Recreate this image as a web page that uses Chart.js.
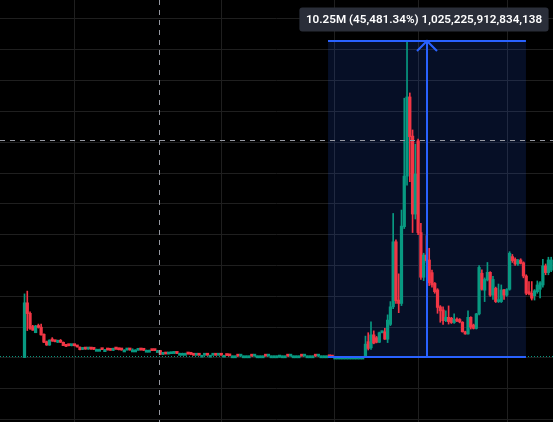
<!DOCTYPE html>
<html>
<head>
<meta charset="utf-8">
<script src="https://cdn.jsdelivr.net/npm/chart.js@4.4.1/dist/chart.umd.min.js"></script>
<style>
  html, body { margin: 0; padding: 0; background: #000; }
  #wrap { width: 553px; height: 422px; }
</style>
</head>
<body>
<div id="wrap"><canvas id="chart" width="553" height="422"></canvas></div>
<script>
// Candles, price in millions, one entry per bar
const open = [
  0.00,1.79,1.45,1.02,0.82,1.04,1.00,0.77,0.53,0.42,
  0.58,0.55,0.51,0.55,0.51,0.42,0.41,0.40,0.41,0.40,
  0.35,0.28,0.30,0.29,0.30,0.29,0.28,0.28,0.28,0.27,
  0.27,0.27,0.25,0.31,0.29,0.27,0.26,0.26,0.27,0.26,
  0.26,0.25,0.27,0.26,0.25,0.25,0.25,0.25,0.24,0.24,
  0.12,0.14,0.13,0.14,0.15,0.16,0.15,0.15,0.15,0.15,
  0.13,0.12,0.09,0.10,0.09,0.09,0.10,0.09,0.09,0.10,
  0.09,0.10,0.09,0.09,0.08,0.07,0.07,0.07,0.06,0.07,
  0.07,0.07,0.07,0.06,0.07,0.07,0.07,0.07,0.06,0.07,
  0.07,0.07,0.03,0.07,0.07,0.07,0.06,0.07,0.07,0.07,
  0.07,0.06,0.07,0.07,0.07,0.07,0.06,0.07,0.07,0.07,
  0.07,0.04,0.03,0.03,0.03,0.03,0.03,0.03,0.03,0.03,
  0.03,0.03,0.03,0.02,0.53,0.33,0.75,0.66,0.51,0.82,
  0.85,0.61,1.09,1.66,3.77,1.88,1.77,4.26,5.90,8.47,
  7.20,4.67,7.05,4.07,2.62,3.34,3.18,2.77,2.42,2.21,
  1.66,1.56,1.21,1.32,1.29,1.15,1.25,1.25,1.16,0.85,
  0.78,1.32,1.07,0.96,1.43,2.75,2.20,2.53,2.78,2.04,
  2.26,1.83,1.83,2.21,2.04,2.23,3.29,3.20,3.05,3.18,
  3.09,2.66,2.15,2.10,2.02,2.15,2.23,2.37,2.99,2.77,
  2.85
];
const high = [
  2.08,2.17,1.50,1.06,1.06,1.10,1.10,0.78,0.55,0.59,
  0.66,0.56,0.58,0.60,0.52,0.43,0.41,0.42,0.41,0.40,
  0.36,0.31,0.30,0.31,0.30,0.29,0.29,0.29,0.28,0.28,
  0.27,0.27,0.32,0.31,0.29,0.27,0.27,0.30,0.27,0.30,
  0.27,0.30,0.27,0.26,0.26,0.26,0.25,0.25,0.25,0.25,
  0.14,0.14,0.15,0.16,0.16,0.16,0.16,0.16,0.16,0.15,
  0.13,0.12,0.10,0.10,0.09,0.10,0.10,0.09,0.10,0.10,
  0.10,0.10,0.09,0.09,0.08,0.07,0.07,0.07,0.07,0.07,
  0.07,0.07,0.07,0.07,0.07,0.07,0.07,0.07,0.07,0.07,
  0.07,0.07,0.07,0.07,0.07,0.07,0.07,0.07,0.07,0.07,
  0.07,0.07,0.07,0.07,0.07,0.07,0.07,0.07,0.07,0.07,
  0.07,0.04,0.03,0.03,0.03,0.03,0.03,0.03,0.03,0.03,
  0.03,0.03,0.03,0.71,0.82,1.17,0.88,0.70,0.84,0.87,
  0.96,1.40,1.83,4.69,3.83,2.73,4.80,8.43,10.27,8.60,
  7.40,6.94,7.10,4.37,3.40,3.97,3.56,2.85,2.45,2.25,
  1.70,1.66,1.53,1.69,1.32,1.43,1.30,1.28,1.18,0.87,
  1.53,1.34,1.10,1.45,3.00,2.86,2.60,3.10,2.80,2.65,
  2.30,2.40,2.37,2.23,2.25,3.45,3.36,3.25,3.20,3.22,
  3.12,2.70,2.48,2.48,2.22,2.50,2.48,3.20,3.05,3.27,
  3.27
];
const low = [
  0.00,0.89,0.93,0.90,0.82,0.97,0.74,0.50,0.41,0.41,
  0.54,0.52,0.50,0.50,0.40,0.37,0.39,0.39,0.39,0.35,
  0.26,0.27,0.28,0.28,0.28,0.27,0.27,0.27,0.27,0.26,
  0.26,0.25,0.24,0.28,0.26,0.25,0.25,0.25,0.25,0.25,
  0.25,0.25,0.25,0.24,0.24,0.24,0.24,0.24,0.23,0.11,
  0.11,0.13,0.13,0.14,0.14,0.14,0.14,0.14,0.14,0.12,
  0.11,0.09,0.09,0.09,0.09,0.09,0.09,0.09,0.09,0.09,
  0.09,0.09,0.09,0.08,0.07,0.07,0.06,0.06,0.06,0.07,
  0.07,0.07,0.06,0.06,0.07,0.07,0.07,0.06,0.06,0.07,
  0.07,0.07,0.02,0.07,0.07,0.06,0.06,0.07,0.07,0.07,
  0.06,0.06,0.07,0.07,0.07,0.06,0.06,0.07,0.07,0.07,
  0.04,0.03,0.03,0.03,0.03,0.03,0.03,0.03,0.03,0.03,
  0.03,0.03,0.03,0.01,0.26,0.28,0.46,0.49,0.50,0.81,
  0.60,0.50,1.05,1.60,1.77,1.47,1.70,4.20,5.61,5.72,
  4.07,4.51,4.00,2.55,2.51,3.10,2.35,2.30,2.10,1.45,
  1.16,1.09,1.18,1.10,1.12,1.12,1.18,1.14,0.84,0.77,
  0.77,0.94,0.94,0.94,1.40,2.20,1.83,2.50,2.00,1.90,
  1.80,1.80,1.80,1.90,2.00,2.20,3.10,3.00,3.00,3.05,
  2.60,2.05,2.05,1.88,1.88,2.10,1.95,2.30,2.70,2.70,
  2.80
];
const close = [
  1.79,1.44,0.96,0.90,1.04,0.99,0.75,0.51,0.42,0.58,
  0.55,0.53,0.54,0.51,0.40,0.38,0.40,0.41,0.40,0.36,
  0.27,0.30,0.29,0.30,0.29,0.28,0.28,0.28,0.27,0.27,
  0.26,0.25,0.31,0.29,0.27,0.26,0.26,0.27,0.26,0.26,
  0.26,0.27,0.26,0.25,0.25,0.25,0.24,0.24,0.24,0.12,
  0.14,0.13,0.14,0.15,0.16,0.15,0.15,0.15,0.15,0.13,
  0.12,0.09,0.10,0.09,0.09,0.10,0.09,0.09,0.10,0.09,
  0.10,0.09,0.09,0.08,0.07,0.07,0.07,0.06,0.07,0.07,
  0.07,0.07,0.06,0.07,0.07,0.07,0.07,0.06,0.07,0.07,
  0.07,0.07,0.07,0.07,0.07,0.06,0.07,0.07,0.07,0.07,
  0.06,0.07,0.07,0.07,0.07,0.06,0.07,0.07,0.07,0.07,
  0.04,0.03,0.03,0.03,0.03,0.03,0.03,0.03,0.03,0.03,
  0.03,0.03,0.03,0.45,0.31,0.75,0.48,0.51,0.82,0.85,
  0.61,1.23,1.66,3.77,1.86,1.77,4.28,5.90,8.47,7.18,
  4.67,5.97,4.07,2.62,3.34,3.16,2.44,2.37,2.15,1.64,
  1.53,1.21,1.32,1.18,1.15,1.25,1.20,1.17,0.85,0.78,
  1.32,1.00,0.96,1.43,2.94,2.23,2.55,2.78,2.04,2.55,
  1.83,1.88,2.21,2.04,2.23,3.40,3.16,3.05,3.16,3.07,
  2.66,2.10,2.08,1.94,2.18,2.37,2.44,2.99,2.77,3.18,
  3.18
];

// grid: price lines every 1M, time lines at the session breaks (bar index)
const priceGrid = [-2, -1, 0, 1, 2, 3, 4, 5, 6, 7, 8, 9, 10, 11];
const timeGrid = [18.2, 70.9, 111.7, 142.3, 174.1];

// visible range
const viewX = [-8.84, 190.66];
const viewY = [-2.077, 11.616];

// price range tool, crosshair and dotted price line
const measureFrom = 109.5, measureTo = 180.9, measureAt = 145.2;
const measureLow = 0.0225, measureHigh = 10.2725;
const measureLabel = '10.25M (45,481.34%) 1,025,225,912,834,138';
const crossIndex = 48.5, crossPrice = 7.06;
const dottedPrice = 0.055;

const upColor = '#089981';
const downColor = '#f23645';
const blue = '#2962ff';
const candleColors = close.map(function(c, i) { return c >= open[i] ? upColor : downColor; });

const overlay = {
    id: 'overlay',
    beforeDatasetsDraw: function(chart) {
        const ctx = chart.ctx;
        const x = chart.scales.x, y = chart.scales.y;
        const x1 = x.getPixelForValue(measureFrom), x2 = x.getPixelForValue(measureTo);
        const yTop = y.getPixelForValue(measureHigh), yBot = y.getPixelForValue(measureLow);
        ctx.save();
        ctx.fillStyle = 'rgba(41, 98, 255, 0.15)';
        ctx.fillRect(x1, yTop, x2 - x1, yBot - yTop);

        // dotted line near the base
        const yd = Math.round(y.getPixelForValue(dottedPrice)) + 0.5;
        ctx.strokeStyle = upColor;
        ctx.lineWidth = 1;
        ctx.setLineDash([1, 2]);
        ctx.beginPath();
        ctx.moveTo(0, yd);
        ctx.lineTo(chart.width, yd);
        ctx.stroke();
        ctx.restore();
    },
    afterDatasetsDraw: function(chart) {
        const ctx = chart.ctx;
        const x = chart.scales.x, y = chart.scales.y;
        const x1 = x.getPixelForValue(measureFrom), x2 = x.getPixelForValue(measureTo);
        const xa = Math.round(x.getPixelForValue(measureAt));
        const yTop = Math.round(y.getPixelForValue(measureHigh));
        const yBot = Math.round(y.getPixelForValue(measureLow));
        ctx.save();
        ctx.strokeStyle = blue;
        ctx.lineWidth = 2;
        ctx.beginPath();
        ctx.moveTo(x1, yTop); ctx.lineTo(x2, yTop);
        ctx.moveTo(x1, yBot); ctx.lineTo(x2, yBot);
        ctx.moveTo(xa, yBot); ctx.lineTo(xa, yTop);
        ctx.moveTo(xa - 10, yTop + 10); ctx.lineTo(xa, yTop); ctx.lineTo(xa + 10, yTop + 10);
        ctx.stroke();
        ctx.restore();
    },
    afterDraw: function(chart) {
        const ctx = chart.ctx;
        const x = chart.scales.x, y = chart.scales.y;
        const cx = Math.round(x.getPixelForValue(crossIndex)) + 0.5;
        const cy = Math.round(y.getPixelForValue(crossPrice)) + 0.5;
        ctx.save();
        ctx.strokeStyle = '#9598a1';
        ctx.lineWidth = 1;
        ctx.setLineDash([5, 5]);
        ctx.beginPath();
        ctx.moveTo(cx, 0); ctx.lineTo(cx, chart.height);
        ctx.moveTo(0, cy); ctx.lineTo(chart.width, cy);
        ctx.stroke();
        ctx.setLineDash([]);

        // label above the range tool
        const xa = x.getPixelForValue(measureAt);
        const yTop = y.getPixelForValue(measureHigh);
        ctx.font = '600 11.7px Roboto';
        const tw = ctx.measureText(measureLabel).width;
        const bw = tw + 13, bh = 24;
        const bx = xa - 3 - bw / 2, by = yTop - 10 - bh;
        ctx.fillStyle = '#2a2e39';
        ctx.beginPath();
        ctx.roundRect(bx, by, bw, bh, 3);
        ctx.fill();
        ctx.fillStyle = '#ffffff';
        ctx.textAlign = 'center';
        ctx.textBaseline = 'middle';
        ctx.fillText(measureLabel, bx + bw / 2, by + bh / 2 + 1);
        ctx.restore();
    }
};

const gridColor = '#1f1f1f';

new Chart(document.getElementById('chart'), {
    type: 'bar',
    data: {
        datasets: [
            {
                label: 'body',
                data: close.map(function(c, i) { return { x: i, y: [open[i], c] }; }),
                backgroundColor: candleColors,
                borderWidth: 0,
                barThickness: 2.6,
                minBarLength: 2,
                grouped: false
            },
            {
                label: 'wick',
                data: close.map(function(c, i) { return { x: i, y: [low[i], high[i]] }; }),
                backgroundColor: candleColors,
                borderWidth: 0,
                barThickness: 1,
                grouped: false
            }
        ]
    },
    options: {
        responsive: false,
        animation: false,
        events: [],
        layout: { padding: 0 },
        plugins: {
            legend: { display: false },
            tooltip: { enabled: false }
        },
        scales: {
            x: {
                type: 'linear',
                min: viewX[0],
                max: viewX[1],
                offset: false,
                border: { display: false },
                grid: { color: gridColor, offset: false, drawTicks: false },
                ticks: { display: false },
                afterBuildTicks: function(axis) {
                    axis.ticks = timeGrid.map(function(v) { return { value: v }; });
                }
            },
            y: {
                type: 'linear',
                min: viewY[0],
                max: viewY[1],
                border: { display: false },
                grid: { color: gridColor, drawTicks: false },
                ticks: { display: false },
                afterBuildTicks: function(axis) {
                    axis.ticks = priceGrid.map(function(v) { return { value: v }; });
                }
            }
        }
    },
    plugins: [overlay]
});
</script>
</body>
</html>
